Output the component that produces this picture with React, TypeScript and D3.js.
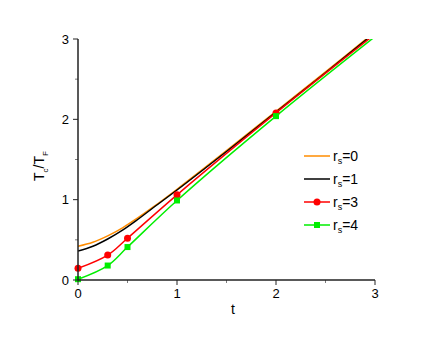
import React from 'react';
import * as d3 from 'd3';

// smooth curves (no markers)
const tLine = [0, 0.15, 0.3, 0.45, 0.6, 0.75, 1, 1.5, 2, 2.5, 3];
const rs0 = [0.42, 0.47, 0.55, 0.65, 0.77, 0.9, 1.13, 1.61, 2.1, 2.59, 3.09];
const rs1 = [0.36, 0.42, 0.51, 0.62, 0.75, 0.89, 1.12, 1.6, 2.09, 2.58, 3.08];

// curves with markers
const tMark = [0, 0.3, 0.5, 1, 2, 3];
const rs3 = [0.145, 0.31, 0.52, 1.06, 2.08, 3.06];
const rs4 = [0.01, 0.18, 0.41, 0.99, 2.04, 3.03];

const xTicks = [0, 1, 2, 3];
const yTicks = [0, 1, 2, 3];
const minorTicks = [0.5, 1.5, 2.5];

const series = [
  { label: '0', color: '#ff8c00', t: tLine, v: rs0, marker: 'none' },
  { label: '1', color: '#000000', t: tLine, v: rs1, marker: 'none' },
  { label: '3', color: '#ff0000', t: tMark, v: rs3, marker: 'circle' },
  { label: '4', color: '#00ee00', t: tMark, v: rs4, marker: 'square' },
];

export default function App() {
  const width = 436;
  const height = 337;
  const x = d3.scaleLinear().domain([0, 3]).range([78, 375]);
  const y = d3.scaleLinear().domain([0, 3]).range([280, 39]);
  const line = d3
    .line<[number, number]>()
    .x(d => x(d[0]))
    .y(d => y(d[1]))
    .curve(d3.curveCatmullRom.alpha(0.5));
  const font = 'Liberation Sans, Arial, sans-serif';
  const axisColor = '#222';

  return (
    <svg width={width} height={height} style={{ position: 'absolute', left: 0, top: 0 }} fontFamily={font}>
      <rect width={width} height={height} fill="#fff" />
      <defs>
        <clipPath id="plot">
          <rect x={x(0)} y={y(3)} width={x(3) - x(0)} height={y(0) - y(3)} />
        </clipPath>
      </defs>

      {series.map(s => (
        <path
          key={s.label}
          d={line(s.t.map((t, i) => [t, s.v[i]] as [number, number])) || ''}
          fill="none"
          stroke={s.color}
          strokeWidth={1.5}
          clipPath="url(#plot)"
        />
      ))}
      {series.map(s =>
        s.t.map((t, i) => {
          if (s.marker === 'none' || s.v[i] > 3) return null;
          if (s.marker === 'circle')
            return <circle key={s.label + i} cx={x(t)} cy={y(s.v[i])} r={3.5} fill={s.color} />;
          return <rect key={s.label + i} x={x(t) - 3} y={y(s.v[i]) - 3} width={6} height={6} fill={s.color} />;
        })
      )}

      {/* axes */}
      <line x1={x(0)} x2={x(3)} y1={y(0)} y2={y(0)} stroke={axisColor} strokeWidth={1.5} />
      <line x1={x(0)} x2={x(0)} y1={y(0)} y2={y(3)} stroke={axisColor} strokeWidth={1.5} />
      {xTicks.map(t => (
        <g key={'x' + t}>
          <line x1={x(t)} x2={x(t)} y1={y(0)} y2={y(0) + 5} stroke={axisColor} strokeWidth={1} />
          <text x={x(t)} y={298} textAnchor="middle" fontSize={13}>{t}</text>
        </g>
      ))}
      {minorTicks.map(t => (
        <g key={'m' + t}>
          <line x1={x(t)} x2={x(t)} y1={y(0)} y2={y(0) + 3} stroke={axisColor} strokeWidth={0.6} />
          <line x1={x(0)} x2={x(0) - 3} y1={y(t)} y2={y(t)} stroke={axisColor} strokeWidth={0.6} />
        </g>
      ))}
      {yTicks.map(t => (
        <g key={'y' + t}>
          <line x1={x(0)} x2={x(0) - 5} y1={y(t)} y2={y(t)} stroke={axisColor} strokeWidth={1} />
          <text x={69} y={y(t) + 4.5} textAnchor="end" fontSize={13}>{t}</text>
        </g>
      ))}
      <text x={233} y={314} textAnchor="middle" fontSize={14}>t</text>
      <text transform="translate(44,166) rotate(-90)" textAnchor="middle" fontSize={14}>
        T<tspan fontSize={8} dy={4}>c</tspan>
        <tspan dy={-4}>/T</tspan>
        <tspan fontSize={8} dy={4}>F</tspan>
      </text>

      {/* legend */}
      {series.map((s, i) => {
        const ly = 156 + i * 23;
        return (
          <g key={'l' + s.label}>
            <line x1={304} x2={330} y1={ly} y2={ly} stroke={s.color} strokeWidth={1.5} />
            {s.marker === 'circle' && <circle cx={317} cy={ly} r={3.5} fill={s.color} />}
            {s.marker === 'square' && <rect x={314} y={ly - 3} width={6} height={6} fill={s.color} />}
            <text x={333} y={ly + 5} fontSize={14}>
              r<tspan fontSize={9} dy={3}>s</tspan>
              <tspan dy={-3}>={s.label}</tspan>
            </text>
          </g>
        );
      })}
    </svg>
  );
}
